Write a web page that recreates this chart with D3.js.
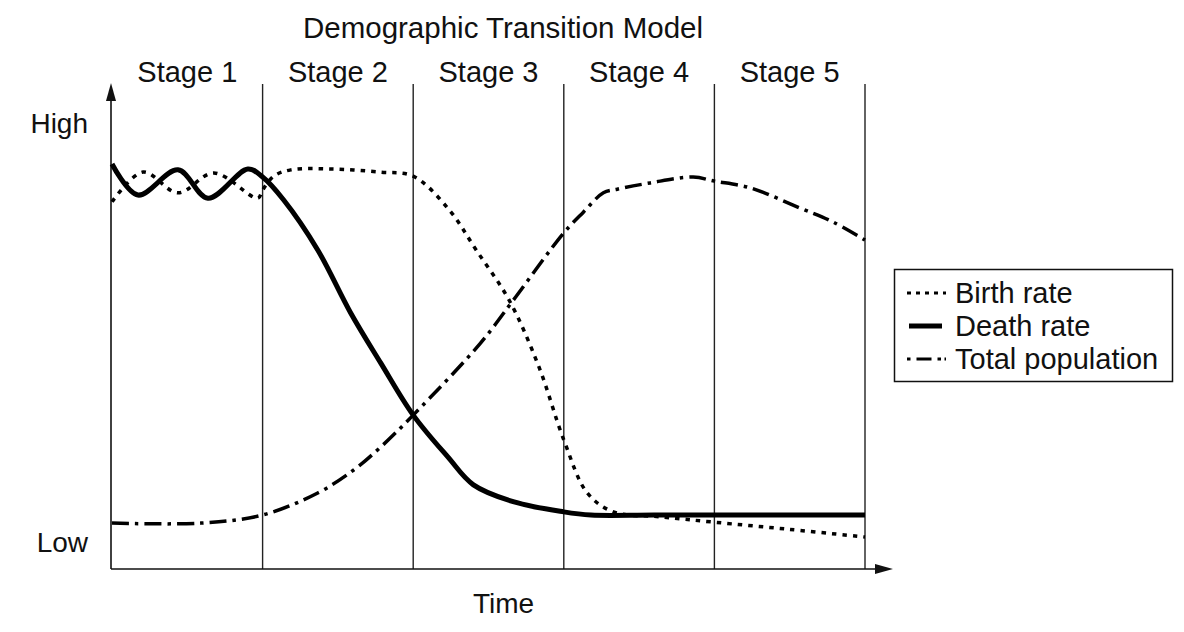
<!DOCTYPE html>
<html>
<head>
<meta charset="utf-8">
<script src="https://cdn.jsdelivr.net/npm/d3@7"></script>
<style>
  html, body { margin: 0; padding: 0; background: #fff; }
  svg { display: block; }
  text { font-family: "Liberation Sans", Arial, Helvetica, sans-serif; fill: #111; }
</style>
</head>
<body>
<svg id="chart" width="1184" height="632"></svg>
<script>
// ---- data (x in stage units 0..5, y as relative level 0..100) ----
const title = "Demographic Transition Model";
const stages = ["Stage 1", "Stage 2", "Stage 3", "Stage 4", "Stage 5"];
const yLabels = ["High", "Low"];
const xLabel = "Time";

const birthRate = [
  [0, 81.6], [0.206, 88.2], [0.438, 83.6], [0.676, 88.0], [0.968, 82.4],
  [1.0, 84.2], [1.074, 87.3], [1.187, 88.7], [1.452, 88.9], [1.784, 88.2],
  [2.0, 87.3], [2.239, 79.8], [2.418, 70.9], [2.636, 59.8], [2.835, 44.9],
  [3.0, 28.7], [3.156, 16.9], [3.329, 12.7], [3.64, 11.6], [4.0, 10.4],
  [4.5, 8.8], [5.0, 7.1]
];
const deathRate = [
  [0, 90.0], [0.172, 83.1], [0.438, 88.7], [0.637, 82.4], [0.902, 88.9],
  [1.0, 87.1], [1.14, 82.0], [1.366, 70.9], [1.585, 56.9], [1.784, 45.8],
  [2.0, 34.2], [2.23, 24.9], [2.4, 18.7], [2.67, 14.9], [3.0, 12.7],
  [3.18, 12.0], [3.6, 12.0], [4.3, 12.0], [5.0, 12.0]
];
const totalPopulation = [
  [0, 10.2], [0.59, 10.2], [1.0, 12.0], [1.366, 16.9], [1.605, 22.0],
  [1.784, 27.1], [2.0, 34.2], [2.447, 50.2], [2.666, 59.8], [3.0, 74.7],
  [3.13, 79.3], [3.263, 83.6], [3.355, 84.4], [3.574, 85.8], [3.859, 87.1],
  [4.0, 86.2], [4.237, 84.7], [4.569, 80.2], [4.788, 77.1], [5.0, 73.1]
];
const seriesNames = ["Birth rate", "Death rate", "Total population"];

// ---- styles ----
const seriesStyle = [
  { width: 3.5, dash: "4.5,6" },
  { width: 5, dash: null },
  { width: 3.5, dash: "17,6,3.5,6" }
];
const seriesData = [birthRate, deathRate, totalPopulation];

const svg = d3.select("#chart");
const x = d3.scaleLinear().domain([0, 5]).range([112, 865]);
const y = d3.scaleLinear().domain([0, 100]).range([569, 119]);
const axisX = 111;

// stage separators
svg.append("g").selectAll("line")
  .data(d3.range(1, 6))
  .join("line")
  .attr("x1", d => x(d)).attr("x2", d => x(d))
  .attr("y1", 84).attr("y2", y(0))
  .attr("stroke", "#222").attr("stroke-width", 1.4);

// axes
svg.append("line").attr("x1", axisX).attr("x2", axisX)
  .attr("y1", y(0)).attr("y2", 98)
  .attr("stroke", "#111").attr("stroke-width", 1.6);
svg.append("path")
  .attr("d", `M${axisX},83 L${axisX - 5},101 L${axisX + 5},101 Z`)
  .attr("fill", "#111");
svg.append("line").attr("x1", axisX).attr("x2", 878)
  .attr("y1", y(0)).attr("y2", y(0))
  .attr("stroke", "#111").attr("stroke-width", 1.6);
svg.append("path")
  .attr("d", `M893,${y(0)} L875,${y(0) - 5} L875,${y(0) + 5} Z`)
  .attr("fill", "#111");

// series
const line = d3.line().x(d => x(d[0])).y(d => y(d[1])).curve(d3.curveCatmullRom.alpha(0.5));
svg.append("g").selectAll("path")
  .data(seriesData)
  .join("path")
  .attr("d", d => line(d))
  .attr("fill", "none")
  .attr("stroke", "#000")
  .attr("stroke-width", (d, i) => seriesStyle[i].width)
  .attr("stroke-dasharray", (d, i) => seriesStyle[i].dash)
  .attr("stroke-linejoin", "round");

// texts
svg.append("text").attr("x", 503).attr("y", 38)
  .attr("text-anchor", "middle").attr("font-size", 29.5).text(title);
svg.append("g").selectAll("text")
  .data(stages)
  .join("text")
  .attr("x", (d, i) => x(i + 0.5))
  .attr("y", 82)
  .attr("text-anchor", "middle")
  .attr("font-size", 29)
  .text(d => d);
svg.append("text").attr("x", 88).attr("y", 133)
  .attr("text-anchor", "end").attr("font-size", 28).text(yLabels[0]);
svg.append("text").attr("x", 88).attr("y", 552)
  .attr("text-anchor", "end").attr("font-size", 28).text(yLabels[1]);
svg.append("text").attr("x", 503.5).attr("y", 613)
  .attr("text-anchor", "middle").attr("font-size", 28).text(xLabel);

// legend
const lg = svg.append("g");
lg.append("rect").attr("x", 894.5).attr("y", 269.5)
  .attr("width", 278).attr("height", 112)
  .attr("fill", "#fff").attr("stroke", "#111").attr("stroke-width", 1.5);
const legendDash = ["4,5", null, "3.5,6,15,6,3.5"];
const items = lg.selectAll("g.item")
  .data(seriesNames)
  .join("g").attr("class", "item")
  .attr("transform", (d, i) => `translate(0, ${293 + i * 33})`);
items.append("line")
  .attr("x1", (d, i) => i === 1 ? 909 : 907)
  .attr("x2", (d, i) => i === 1 ? 942 : 946)
  .attr("y1", 0).attr("y2", 0)
  .attr("stroke", "#000")
  .attr("stroke-width", (d, i) => i === 1 ? 5 : 3)
  .attr("stroke-dasharray", (d, i) => legendDash[i]);
items.append("text")
  .attr("x", 955).attr("y", 9.5)
  .attr("font-size", 29)
  .text(d => d);
</script>
</body>
</html>
